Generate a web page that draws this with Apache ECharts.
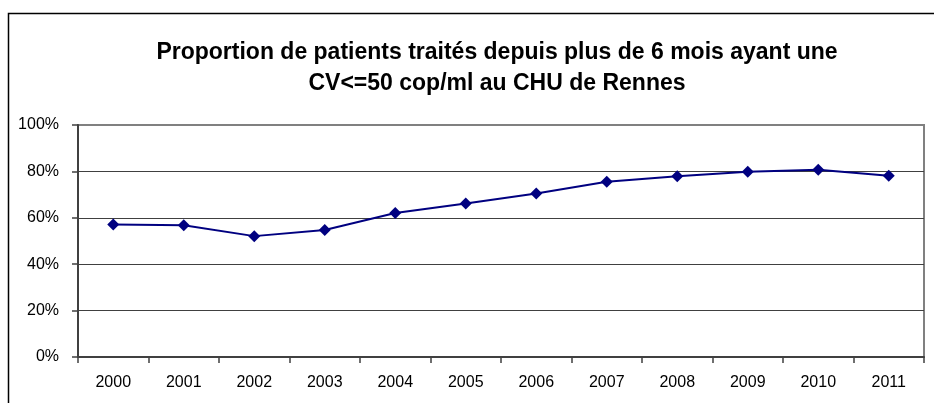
<!DOCTYPE html>
<html>
<head>
<meta charset="utf-8">
<script src="https://cdn.jsdelivr.net/npm/echarts@6/dist/echarts.min.js"></script>
<style>
  html, body { margin: 0; padding: 0; background: #fff; }
  #chart { width: 934px; height: 403px; }
</style>
</head>
<body>
<div id="chart"></div>
<script>
// données
var annees = ['2000', '2001', '2002', '2003', '2004', '2005', '2006', '2007', '2008', '2009', '2010', '2011'];
var proportion = [57.1, 56.8, 52.1, 54.7, 62.1, 66.2, 70.5, 75.5, 77.9, 79.9, 80.7, 78.1];
var titre = 'Proportion de patients traités depuis plus de 6 mois ayant une\nCV<=50 cop/ml au CHU de Rennes';

var police = '"Liberation Sans", Arial, sans-serif';

var myChart = echarts.init(document.getElementById('chart'));
var option = {
    animation: false,
    backgroundColor: '#fff',
    title: {
        text: titre,
        left: 492,
        top: 32,
        textAlign: 'center',
        textStyle: {
            fontFamily: police,
            fontSize: 23,
            fontWeight: 'bold',
            color: '#000',
            lineHeight: 31
        }
    },
    graphic: [{
        type: 'rect',
        shape: { x: 8.5, y: 13.5, width: 960, height: 420 },
        style: { fill: 'none', stroke: '#000', lineWidth: 1.5 },
        silent: true
    }],
    grid: {
        left: 78,
        right: 10,
        top: 125,
        bottom: 46,
        show: true,
        borderColor: '#808080',
        borderWidth: 2
    },
    xAxis: {
        type: 'category',
        data: annees,
        boundaryGap: true,
        axisLine: { lineStyle: { color: '#404040', width: 2 } },
        axisTick: { show: true, length: 6, lineStyle: { color: '#404040', width: 1.5 } },
        axisLabel: {
            margin: 18,
            fontFamily: police,
            fontSize: 16,
            color: '#000'
        }
    },
    yAxis: {
        type: 'value',
        min: 0,
        max: 100,
        interval: 20,
        axisLine: { show: true, lineStyle: { color: '#404040', width: 2 } },
        axisTick: { show: true, length: 6, lineStyle: { color: '#404040', width: 1.5 } },
        axisLabel: {
            margin: 19,
            fontFamily: police,
            fontSize: 16,
            color: '#000',
            formatter: '{value}%'
        },
        splitLine: {
            show: true,
            lineStyle: { color: ['#404040', '#404040', '#404040', '#404040', '#404040', '#808080'], width: 1.2 }
        }
    },
    series: [{
        type: 'line',
        data: proportion,
        symbol: 'diamond',
        symbolSize: 12,
        itemStyle: { color: '#000080' },
        lineStyle: { color: '#000080', width: 2 }
    }]
};
myChart.setOption(option);
</script>
</body>
</html>
